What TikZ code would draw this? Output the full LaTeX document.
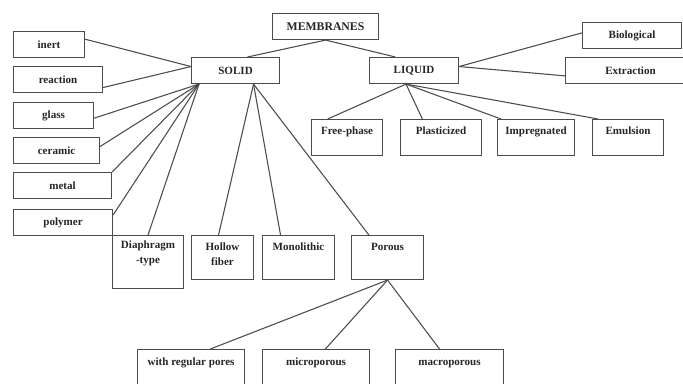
\documentclass[tikz,border=0pt]{standalone}
\usepackage{fontspec}
\setmainfont{Liberation Serif}
\usepackage{tikz}
\usetikzlibrary{positioning, calc}

\tikzset{
    box/.style 2 args={draw=black!70, line width=0.8pt, rectangle, inner sep=0pt,
        anchor=north west, minimum width=#1*0.75pt, minimum height=#2*0.75pt,
        font=\bfseries\fontsize{8.3}{9.5}\selectfont, text=black!85},
    toptext/.style={text height=11pt, text depth=#1},
    link/.style={draw=black!70, line width=0.8pt}
}

\begin{document}
\begin{tikzpicture}[
            x=0.75pt,
            y=-0.75pt
            ]

            \clip (0,0) rectangle (683,383);
            \fill[white] (0,0) rectangle (683,383);

            % 顶层
            \node[box={106}{26}, font=\bfseries\fontsize{8.8}{10}\selectfont] (membranes) at (272,13) {MEMBRANES};
            \node[box={88}{26}] (solid) at (191,57) {SOLID};
            \node[box={89}{26}] (liquid) at (369,57) {LIQUID};

            % 左侧材料
            \node[box={71}{26}] (inert) at (13,31) {inert};
            \node[box={89}{26}] (reaction) at (13,66) {reaction};
            \node[box={80}{26}] (glass) at (13,102) {glass};
            \node[box={86}{26}] (ceramic) at (13,137) {ceramic};
            \node[box={98}{26}] (metal) at (13,172) {metal};
            \node[box={99}{26}] (polymer) at (13,209) {polymer};

            % 固体膜结构
            \node[box={71}{53}, align=center, text height=21pt, text depth=18.75pt] (diaphragm) at (112,235) {Diaphragm\\[1.5pt]-type};
            \node[box={62}{44}, align=center, text height=22.5pt, text depth=10.5pt] (hollow) at (191,235) {Hollow\\[1.5pt]fiber};
            \node[box={72}{44}, toptext=22pt] (monolithic) at (262,235) {Monolithic};
            \node[box={72}{44}, toptext=22pt] (porous) at (351,235) {Porous};

            % 多孔膜
            \node[box={107}{40}, text height=12pt, text depth=18pt] (regular) at (137,349) {with regular pores};
            \node[box={107}{40}, text height=12pt, text depth=18pt] (micro) at (262,349) {microporous};
            \node[box={108}{40}, text height=12pt, text depth=18pt] (macro) at (395,349) {macroporous};

            % 液体膜
            \node[box={99}{26}] (biological) at (582,22) {Biological};
            \node[box={130}{26}] (extraction) at (565,57) {Extraction};
            \node[box={71}{36}, toptext=16pt] (freephase) at (311,119) {Free-phase};
            \node[box={81}{36}, toptext=16pt] (plasticized) at (400,119) {Plasticized};
            \node[box={77}{36}, toptext=16pt] (impregnated) at (497,119) {Impregnated};
            \node[box={71}{36}, toptext=16pt] (emulsion) at (592,119) {Emulsion};

            % 连接点
            \coordinate (solidW) at ([yshift=3pt]solid.west);
            \coordinate (solidSW) at ([xshift=6pt]solid.south west);
            \coordinate (solidS) at ([xshift=13.5pt]solid.south);
            \coordinate (liquidS) at ([xshift=-6pt]liquid.south);

            % 连线
            \draw[link] (membranes.south) -- ([xshift=9pt]solid.north);
            \draw[link] (membranes.south) -- ([xshift=-14pt]liquid.north);

            \draw[link] ([yshift=4pt]inert.east) -- (solidW);
            \draw[link] ([yshift=-6pt]reaction.east) -- (solidW);
            \draw[link] ([yshift=-2pt]glass.east) -- (solidSW);
            \draw[link] ([yshift=3pt]ceramic.east) -- (solidSW);
            \draw[link] (metal.north east) -- (solidSW);
            \draw[link] ([yshift=-4.5pt]polymer.north east) -- (solidSW);
            \draw[link] (diaphragm.north) -- (solidSW);

            \draw[link] (solidS) -- ([xshift=-3pt]hollow.north);
            \draw[link] (solidS) -- ([xshift=-13.5pt]monolithic.north);
            \draw[link] (solidS) -- ([xshift=-14pt]porous.north);

            \draw[link] (porous.south) -- ([xshift=14.5pt]regular.north);
            \draw[link] (porous.south) -- ([xshift=7pt]micro.north);
            \draw[link] (porous.south) -- ([xshift=-7.5pt]macro.north);

            \draw[link] ([yshift=3pt]liquid.east) -- ([yshift=2pt]biological.west);
            \draw[link] ([yshift=3pt]liquid.east) -- ([yshift=-4pt]extraction.west);
            \draw[link] (liquidS) -- ([xshift=-14.5pt]freephase.north);
            \draw[link] (liquidS) -- ([xshift=-14pt]plasticized.north);
            \draw[link] (liquidS) -- ([xshift=3pt]impregnated.north west);
            \draw[link] (liquidS) -- ([xshift=4.5pt]emulsion.north west);
        \end{tikzpicture}
\end{document}
